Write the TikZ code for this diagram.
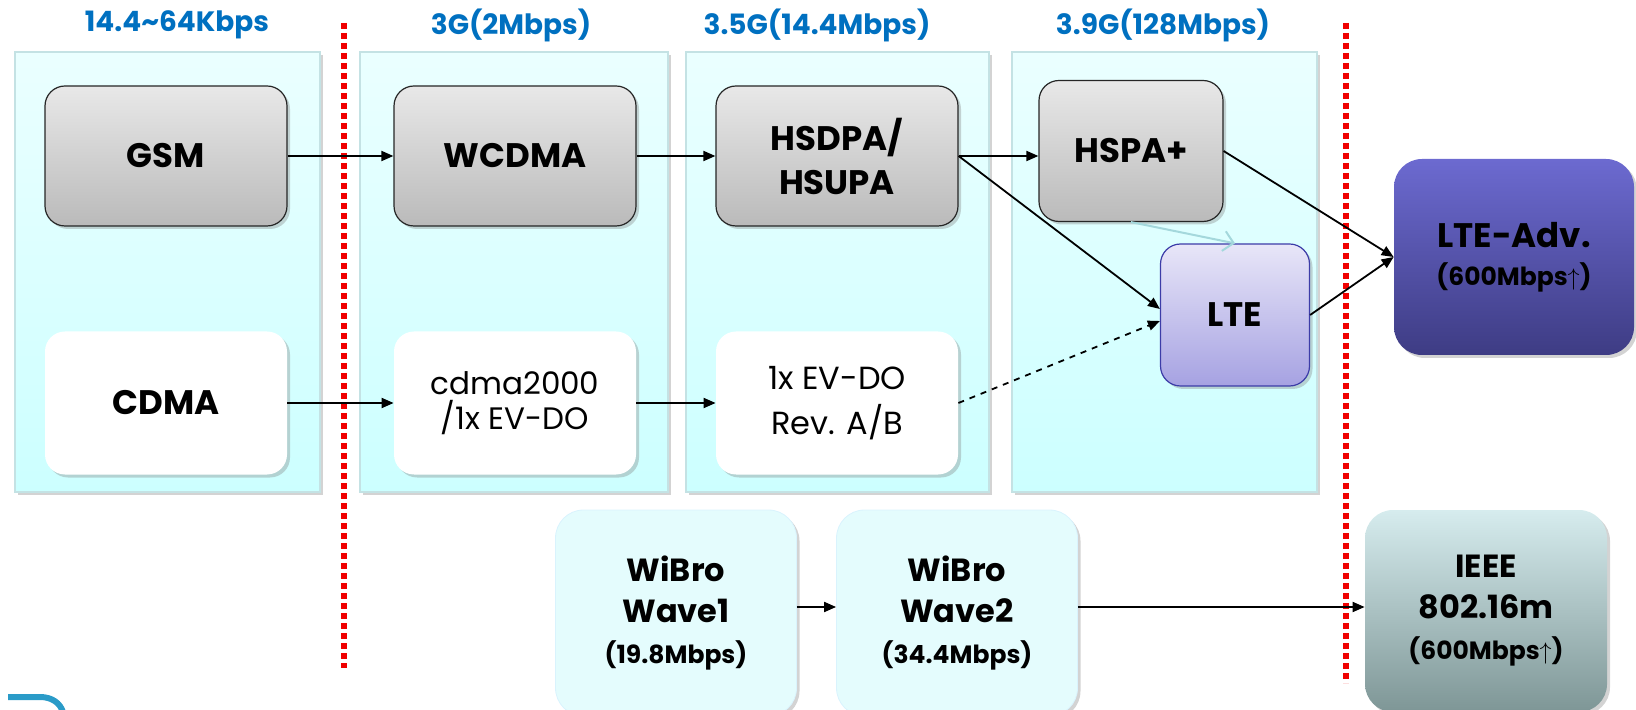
\documentclass[tikz,border=0pt]{standalone}
\usepackage{fontspec}
\setmainfont{Poppins}
\usetikzlibrary{arrows.meta,shadows,calc}

\definecolor{headblue}{HTML}{0070C0}
\definecolor{panelline}{HTML}{C4E2E4}
\definecolor{dotred}{HTML}{F00000}
\definecolor{ltedraw}{HTML}{3C3CA8}
\definecolor{logoblue}{HTML}{2A9BC8}
\definecolor{paleline}{HTML}{A4D8DC}

\tikzset{
  x=0.5pt, y=-0.5pt,
  shade/.style={drop shadow={opacity=0.35, shadow xshift=1.5pt, shadow yshift=-1.5pt}},
  panel/.style={shade, draw=panelline, line width=0.6pt, top color=cyan!8, bottom color=cyan!20},
  head/.style={text=headblue, font=\bfseries\fontsize{14}{16}\selectfont},
  box/.style={shade, rounded corners=10pt, inner sep=0pt, align=center,
    minimum width=121pt, minimum height=70pt},
  greybox/.style={box, draw=black!85, line width=0.6pt, top color=black!9, bottom color=black!27,
    font=\bfseries\fontsize{17}{22}\selectfont},
  whitebox/.style={box, fill=white, minimum height=71.5pt},
  ltebox/.style={box, draw=ltedraw, line width=0.6pt, top color={rgb,255:red,232;green,230;blue,248},
    bottom color={rgb,255:red,166;green,162;blue,226}, minimum width=74.5pt, minimum height=71pt,
    font=\bfseries\fontsize{17}{22}\selectfont},
  advbox/.style={box, rounded corners=14pt, top color={rgb,255:red,108;green,106;blue,208},
    bottom color={rgb,255:red,62;green,60;blue,132}, minimum width=120pt, minimum height=98pt,
    font=\bfseries\fontsize{17}{22}\selectfont},
  wibrobox/.style={box, rounded corners=14pt, draw=cyan!15, fill={rgb,255:red,228;green,252;blue,253},
    minimum width=120.5pt, minimum height=103pt, font=\bfseries\fontsize{16}{20.5}\selectfont},
  ieeebox/.style={box, rounded corners=14pt, top color={rgb,255:red,214;green,236;blue,238},
    bottom color={rgb,255:red,126;green,150;blue,150}, minimum width=121pt, minimum height=101pt,
    font=\bfseries\fontsize{16}{20.5}\selectfont},
  arr/.style={-{Triangle[length=6pt,width=5pt]}, line width=0.9pt},
  redline/.style={dotred, line width=2.6pt, dash pattern=on 3pt off 2pt}
}
\newcommand{\rate}[1]{{\fontsize{12.5}{15}\selectfont #1}}

\begin{document}
\begin{tikzpicture}
\path[use as bounding box, clip] (0,0) rectangle (1636,710);

% column panels
\path[panel] (15,52) rectangle (320,492);
\path[panel] (360,52) rectangle (668,492);
\path[panel] (686,52) rectangle (989,492);
\path[panel] (1012,52) rectangle (1317,492);

% headings
\node[head] (h1) at (177,25) {14.4\textasciitilde64Kbps};
\node[head] (h2) at (511,25) {3G(2Mbps)};
\node[head] (h3) at (817,25) {3.5G(14.4Mbps)};
\node[head] (h4) at (1163,25) {3.9G(128Mbps)};

% red borders
\draw[redline] (344,23) -- (344,668);
\draw[redline] (1346,23) -- (1346,683);

% boxes
\node[greybox] (gsm) at (166,156) {GSM};
\node[greybox] (wcdma) at (515,156) {WCDMA};
\node[greybox] (hsdpa) at (837,156) {HSDPA/\\HSUPA};
\node[greybox, minimum width=92pt, minimum height=70.5pt] (hspa) at (1131,151) {HSPA+};
\node[ltebox] (lte) at (1235,315) {LTE};
\node[advbox] (adv) at (1514,257) {LTE-Adv.\\[-3pt]\rate{(600Mbps$\uparrow$)}};

\node[whitebox, font=\bfseries\fontsize{17}{22}\selectfont] (cdma) at (166,403) {CDMA};
\node[whitebox, font=\fontsize{15.5}{17.5}\selectfont] (cdma2k) at (515,403) {cdma2000\\/1x EV-DO};
\node[whitebox, font=\fontsize{16}{22.5}\selectfont] (evdo) at (837,403) {1x EV-DO\\Rev. A/B};

\node[wibrobox] (wave1) at (676,613) {WiBro\\Wave1\\\rate{(19.8Mbps)}};
\node[wibrobox] (wave2) at (957,613) {WiBro\\Wave2\\\rate{(34.4Mbps)}};
\node[ieeebox] (ieee) at (1486,611) {IEEE\\802.16m\\\rate{(600Mbps$\uparrow$)}};

% arrows
\draw[arr] (gsm) -- (wcdma);
\draw[arr] (wcdma) -- (hsdpa);
\draw[arr] (hsdpa.east) -- (hsdpa.east -| hspa.west);
\draw[arr] (hsdpa.east) -- ([yshift=3pt]lte.west);
\draw[arr] (hspa.east) -- (adv.west);
\draw[arr] (lte.east) -- (adv.west);
\draw[-{Straight Barb[length=5pt]}, line width=1pt, paleline] (hspa.south) -- (lte.north);
\draw[arr] (cdma) -- (cdma2k);
\draw[arr] (cdma2k) -- (evdo);
\draw[arr, dashed] (evdo.east) -- ([yshift=-3pt]lte.west);
\draw[arr] (wave1.east |- 0,607) -- (wave2.west |- 0,607);
\draw[arr] (wave2.east |- 0,607) -- (ieee.west |- 0,607);

% logo corner
\draw[logoblue, line width=3pt] (8,697) -- (40,697) .. controls (52,697) and (60,703) .. (63,712);
\end{tikzpicture}
\end{document}
